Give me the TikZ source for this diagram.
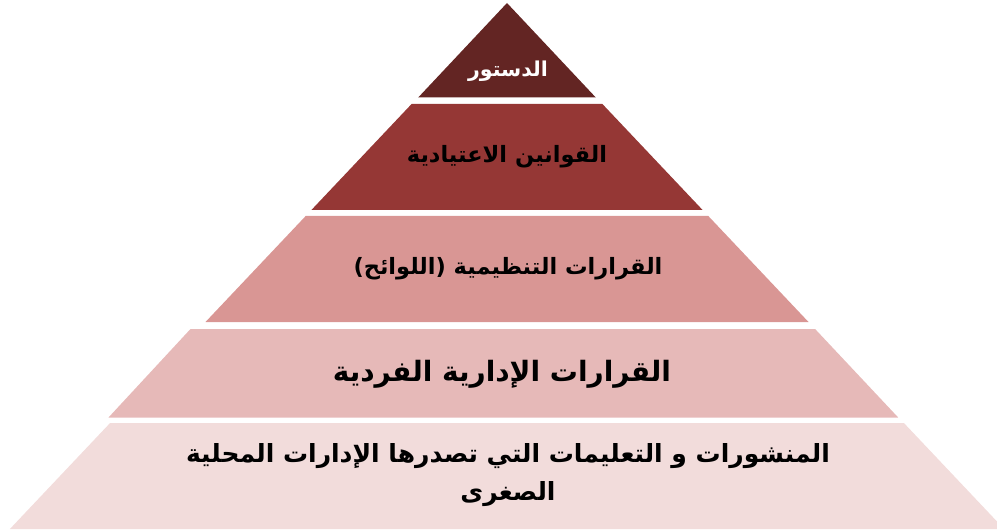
\documentclass[tikz,border=0pt]{standalone}
\usepackage{fontspec}
\newfontfamily\arabicfont[Script=Arabic]{DejaVu Sans}
\TeXXeTstate=1
\definecolor{layerA}{HTML}{632523}
\definecolor{layerB}{HTML}{953735}
\definecolor{layerC}{HTML}{D99694}
\definecolor{layerD}{HTML}{E6B9B8}
\definecolor{layerE}{HTML}{F2DCDB}
\tikzset{
  label/.style={inner sep=0pt, align=center, font=\arabicfont\bfseries},
}
\begin{document}
\begin{tikzpicture}[x=1pt, y=-1pt, line join=round]
		\useasboundingbox (0,0) rectangle (997,532);
\begin{scope}
		\clip (0,0) rectangle (997,532);
		\fill[layerA] (507,3)--(595.8,97.5)--(418.2,97.5)--cycle;
		\fill[layerB] (411.6,104)--(602.4,104)--(702.6,210)--(311.4,210)--cycle;
		\fill[layerC] (305.7,216)--(708.3,216)--(808.5,322)--(205.5,322)--cycle;
		\fill[layerD] (190.5,329)--(815.1,329)--(898.2,417.5)--(108.5,417.5)--cycle;
		\fill[layerE] (110.1,423)--(903.9,423)--(1004.1,529)--(9.9,529)--cycle;
\end{scope}
		\node[label, text=white, font=\arabicfont\bfseries\fontsize{20.5}{24}\selectfont] (constitution) at (508,71) {\beginR الدستور\endR};
		\node[label, font=\arabicfont\bfseries\fontsize{22.5}{27}\selectfont] (laws) at (507,157) {\beginR القوانين الاعتيادية\endR};
		\node[label, font=\arabicfont\bfseries\fontsize{22.5}{27}\selectfont] (regulations) at (508,269) {\beginR القرارات التنظيمية (اللوائح)\endR};
		\node[label, font=\arabicfont\bfseries\fontsize{28}{33}\selectfont] (decisions) at (502,374) {\beginR القرارات الإدارية الفردية\endR};
		\node[label, font=\arabicfont\bfseries\fontsize{25}{38}\selectfont] (circulars) at (508,475) {\beginR المنشورات و التعليمات التي تصدرها الإدارات المحلية\endR\\ \beginR الصغرى\endR};
\end{tikzpicture}
\end{document}
